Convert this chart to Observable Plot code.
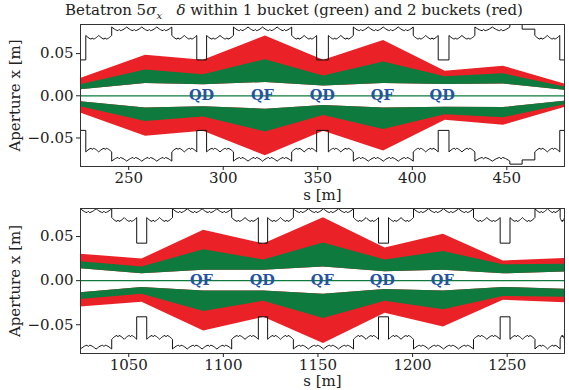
<!DOCTYPE html>
<html>
<head>
<meta charset="utf-8">
<script src="https://cdn.jsdelivr.net/npm/d3@7"></script>
<script src="https://cdn.jsdelivr.net/npm/@observablehq/plot@0.6"></script>
<style>
  body { margin: 0; background: #fff; }
  #wrap { position: relative; width: 569px; height: 390px; font-family: "DejaVu Serif", serif; color: #222; }
  #title { position: absolute; left: 0; top: 1px; width: 588px; text-align: center; font-size: 15px; white-space: pre; }
  #title sub { font-size: 10px; }
  #p1 { position: absolute; left: 0; top: 0; }
  #p2 { position: absolute; left: 0; top: 204px; }
</style>
</head>
<body>
<div id="wrap">
  <div id="p1"></div>
  <div id="p2"></div>
  <div id="title">Betatron 5<i>σ</i><sub><i>x</i></sub>   <i>δ</i> within 1 bucket (green) and 2 buckets (red)</div>
</div>
<script>
// ---------- data ----------
// envelope knots, top panel (s in m, half-aperture in m)
const topS      = [224.5, 258.9, 289.5, 322.3, 353.1, 384.8, 417.4, 448.2, 480.5];
const topInner  = [0.0072, 0.0146, 0.0130, 0.0158, 0.0115, 0.0145, 0.0135, 0.0140, 0.0066];
const topGreen  = [0.0130, 0.0305, 0.0250, 0.0428, 0.0235, 0.0400, 0.0225, 0.0260, 0.0105];
const topRed    = [0.0205, 0.0480, 0.0420, 0.0710, 0.0420, 0.0655, 0.0290, 0.0350, 0.0140];

// envelope knots, bottom panel
const botS      = [1024.5, 1057.0, 1089.6, 1121.3, 1152.9, 1185.5, 1216.3, 1248.0, 1280.3];
const botInner  = [0.0136, 0.0078, 0.0117, 0.0117, 0.0155, 0.0100, 0.0117, 0.0077, 0.0097];
const botGreen  = [0.0214, 0.0155, 0.0350, 0.0234, 0.0428, 0.0234, 0.0330, 0.0180, 0.0187];
const botRed    = [0.0300, 0.0245, 0.0572, 0.0416, 0.0712, 0.0370, 0.0526, 0.0222, 0.0252];

// aperture element segments (start s, type); H = dipole high, M = mid, Q = quadrupole, T/U = special
const topApStarts = [224.5, 227.3, 241.0, 272.8, 286.0, 291.2, 305.4, 336.2, 349.4, 355.6, 368.8, 400.5, 413.7, 419.4, 433.1, 451.6, 458.1, 464.8, 478.0];
const topApTypes  = ["Q","M","H","M","Q","M","H","M","Q","M","H","M","Q","M","H","T","U","M","Q"];
const topApEnd = 480.5;
const botApStarts = [1024.5, 1041.0, 1054.2, 1059.5, 1073.1, 1104.4, 1118.5, 1123.4, 1137.0, 1168.8, 1182.0, 1187.3, 1200.5, 1232.2, 1246.3, 1251.5, 1264.7, 1278.0];
const botApTypes  = ["H","M","Q","M","H","M","Q","M","H","M","Q","M","H","M","Q","M","H","M"];
const botApEnd = 1280.3;
const levelTypes  = ["H", "M", "Q", "T", "U"];
const upperLevels = [0.0815, 0.0715, 0.0425, 0.0850, 0.0790];
const lowerLevels = [-0.0775, -0.0665, -0.0410, -0.0810, -0.0760];

// quadrupole labels
const topLabelS = [288.5, 320.7, 352.4, 384.1, 415.8];
const topLabels = ["QD", "QF", "QD", "QF", "QD"];
const botLabelS = [1088.4, 1120.6, 1152.3, 1184.0, 1215.7];
const botLabels = ["QF", "QD", "QF", "QD", "QF"];

const topTicks = [250, 300, 350, 400, 450];
const botTicks = [1050, 1100, 1150, 1200, 1250];
const yTicks = [-0.05, 0, 0.05];

// ---------- drawing ----------
const RED = "#ea2228", GREEN = "#0e7a3d", BLUE = "#2453a6";
const arcDepth = 0.0045, spike = 0.0017;

function apertureLine(starts, types, end, levels, dir) {
  const pts = [];
  starts.forEach((a, i) => {
    const b = i + 1 < starts.length ? starts[i + 1] : end;
    const L = levels[levelTypes.indexOf(types[i])];
    if (types[i] === "H" || types[i] === "M") {
      const n = Math.max(1, Math.round((b - a) / 7.5));
      const w = (b - a) / n;
      for (let k = 0; k < n; k++) {
        for (let j = 0; j <= 12; j++) {
          const t = j / 12;
          let v = L - dir * arcDepth * Math.sin(Math.PI * t);
          if (j === 6) v += dir * spike;
          pts.push({s: a + k * w + t * w, v});
        }
      }
    } else {
      pts.push({s: a, v: L}, {s: b, v: L});
    }
  });
  return pts;
}

function panel(o) {
  const rows = o.s.map((s, i) => ({s, inner: o.inner[i], g: o.green[i], r: o.red[i]}));
  const up = apertureLine(o.apStarts, o.apTypes, o.apEnd, upperLevels, 1);
  const lo = apertureLine(o.apStarts, o.apTypes, o.apEnd, lowerLevels, -1);
  return Plot.plot({
    width: 569, height: o.height,
    marginLeft: 80, marginRight: 5, marginTop: o.mt, marginBottom: o.mb,
    style: {fontFamily: "DejaVu Serif, serif", fontSize: "15px", color: "#222", background: "transparent"},
    x: {domain: o.xDomain},
    y: {domain: o.yDomain},
    marks: [
      Plot.areaY(rows, {x: "s", y1: "inner", y2: "r", fill: RED, clip: true}),
      Plot.areaY(rows, {x: "s", y1: d => -d.inner, y2: d => -d.r, fill: RED, clip: true}),
      Plot.areaY(rows, {x: "s", y1: "inner", y2: "g", fill: GREEN, clip: true}),
      Plot.areaY(rows, {x: "s", y1: d => -d.inner, y2: d => -d.g, fill: GREEN, clip: true}),
      Plot.ruleY([0], {stroke: GREEN, strokeWidth: 1.2}),
      Plot.line(up, {x: "s", y: "v", stroke: "#111", strokeWidth: 1, clip: true}),
      Plot.line(lo, {x: "s", y: "v", stroke: "#111", strokeWidth: 1, clip: true}),
      Plot.text(o.labelS, {x: d => d, y: 0, text: (d, i) => o.labels[i], fill: BLUE, fontWeight: "bold", fontSize: 14.5, lineAnchor: "middle"}),
      Plot.frame({stroke: "#333", strokeWidth: 1}),
      Plot.axisX({ticks: o.xTicks, tickSize: 4, tickPadding: 2, tickFormat: d => String(d), label: null}),
      Plot.axisY({ticks: yTicks, tickSize: 4, tickPadding: 3, tickFormat: d3.format(".2f"), label: null}),
      Plot.text(["s [m]"], {frameAnchor: "bottom", dy: o.xLabelDy, lineAnchor: "middle", fontSize: 15}),
      Plot.text(["Aperture x [m]"], {frameAnchor: "left", dx: -65, rotate: -90, textAnchor: "middle", lineAnchor: "middle", fontSize: 15})
    ]
  });
}

document.getElementById("p1").appendChild(panel({
  s: topS, inner: topInner, green: topGreen, red: topRed,
  apStarts: topApStarts, apTypes: topApTypes, apEnd: topApEnd,
  labelS: topLabelS, labels: topLabels, xTicks: topTicks,
  xDomain: [224.5, 480.5], yDomain: [-0.0838, 0.0845],
  height: 214, mt: 24, mb: 48, xLabelDy: 29
}));
document.getElementById("p2").appendChild(panel({
  s: botS, inner: botInner, green: botGreen, red: botRed,
  apStarts: botApStarts, apTypes: botApTypes, apEnd: botApEnd,
  labelS: botLabelS, labels: botLabels, xTicks: botTicks,
  xDomain: [1024.5, 1280.3], yDomain: [-0.0826, 0.0818],
  height: 186, mt: 4, mb: 37, xLabelDy: 28
}));
</script>
</body>
</html>
